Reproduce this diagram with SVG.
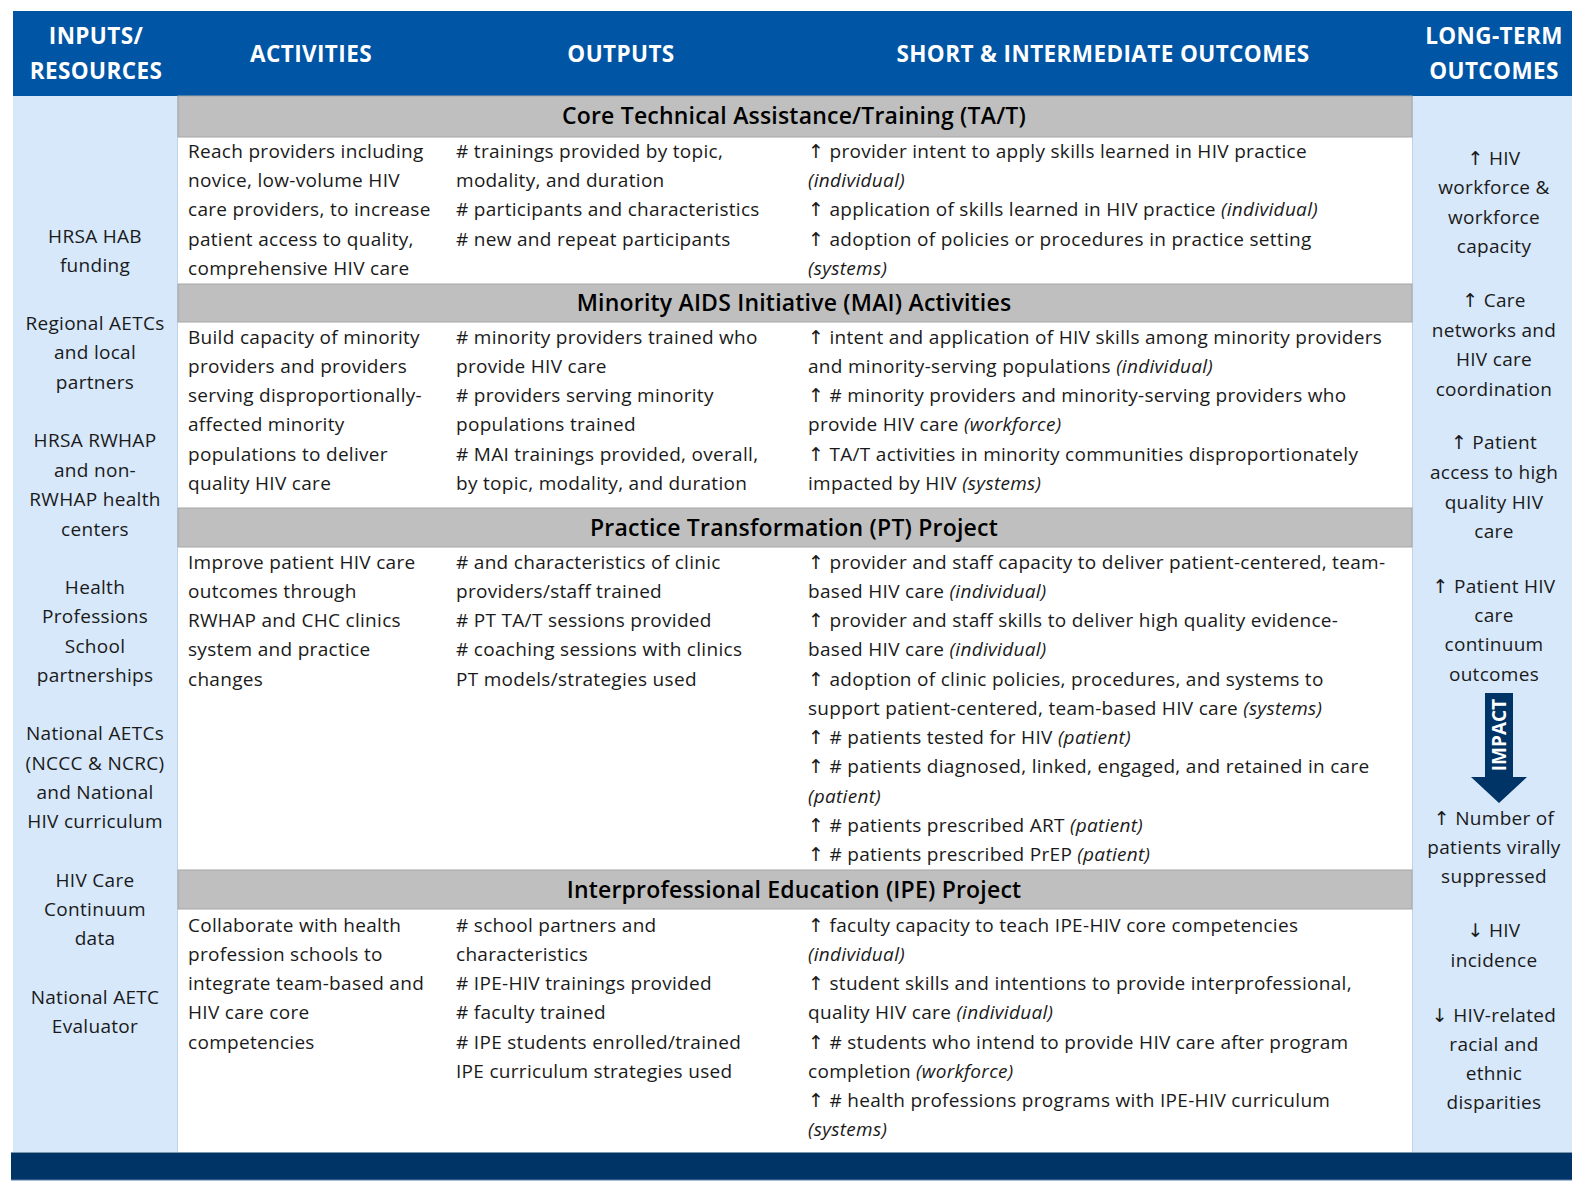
<svg xmlns="http://www.w3.org/2000/svg" width="1572" height="1188" viewBox="0 0 1572 1188">
<style>
.t{font-family:"Open Sans","DejaVu Sans",sans-serif;font-size:19px;letter-spacing:0.3px;fill:#1a1a1a}
.c{text-anchor:middle}
.i{font-style:italic}
.h{font-family:"Open Sans","Liberation Sans",sans-serif;font-size:22.5px;letter-spacing:0.4px;font-weight:bold;fill:#fff;text-anchor:middle}
.s{font-family:"Open Sans","Liberation Sans",sans-serif;font-size:23px;letter-spacing:0.2px;font-weight:600;fill:#000;text-anchor:middle}
.sec{fill:#BFBFBF;stroke:#A6A6A6;stroke-width:1}
.side{fill:#D6E8FA}
</style>
<rect width="1572" height="1188" fill="#fff"/>
<g id="header">
<rect x="13" y="11" width="1559" height="85" fill="#0055A5"/>
<text class="h" x="96" y="44">INPUTS/</text>
<text class="h" x="96" y="79">RESOURCES</text>
<text class="h" x="311" y="62">ACTIVITIES</text>
<text class="h" x="621" y="62">OUTPUTS</text>
<text class="h" x="1103" y="62">SHORT &amp; INTERMEDIATE OUTCOMES</text>
<text class="h" x="1494" y="44">LONG-TERM</text>
<text class="h" x="1494" y="79">OUTCOMES</text>
</g>
<g id="inputs">
<rect class="side" x="13" y="96" width="165" height="1056"/>
<line x1="178" y1="96" x2="178" y2="1152" stroke="#A9BDD2" stroke-width="1"/>
<g class="t c">
<text x="95" y="243">HRSA HAB</text><text x="95" y="272">funding</text>
<text x="95" y="330">Regional AETCs</text><text x="95" y="359">and local</text><text x="95" y="389">partners</text>
<text x="95" y="447">HRSA RWHAP</text><text x="95" y="477">and non-</text><text x="95" y="506">RWHAP health</text><text x="95" y="536">centers</text>
<text x="95" y="594">Health</text><text x="95" y="623">Professions</text><text x="95" y="653">School</text><text x="95" y="682">partnerships</text>
<text x="95" y="740">National AETCs</text><text x="95" y="770">(NCCC &amp; NCRC)</text><text x="95" y="799">and National</text><text x="95" y="828">HIV curriculum</text>
<text x="95" y="887">HIV Care</text><text x="95" y="916">Continuum</text><text x="95" y="945">data</text>
<text x="95" y="1004">National AETC</text><text x="95" y="1033">Evaluator</text>
</g>
</g>
<g id="longterm">
<rect class="side" x="1412" y="96" width="160" height="1056"/>
<line x1="1412" y1="96" x2="1412" y2="1152" stroke="#A9BDD2" stroke-width="1"/>
<g class="t c">
<text x="1494" y="165">↑ HIV</text><text x="1494" y="194">workforce &amp;</text><text x="1494" y="224">workforce</text><text x="1494" y="253">capacity</text>
<text x="1494" y="307">↑ Care</text><text x="1494" y="337">networks and</text><text x="1494" y="366">HIV care</text><text x="1494" y="396">coordination</text>
<text x="1494" y="449">↑ Patient</text><text x="1494" y="479">access to high</text><text x="1494" y="509">quality HIV</text><text x="1494" y="538">care</text>
<text x="1494" y="593">↑ Patient HIV</text><text x="1494" y="622">care</text><text x="1494" y="651">continuum</text><text x="1494" y="681">outcomes</text>
<text x="1494" y="825">↑ Number of</text><text x="1494" y="854">patients virally</text><text x="1494" y="883">suppressed</text>
<text x="1494" y="937">↓ HIV</text><text x="1494" y="967">incidence</text>
<text x="1494" y="1022">↓ HIV-related</text><text x="1494" y="1051">racial and</text><text x="1494" y="1080">ethnic</text><text x="1494" y="1109">disparities</text>
</g>
</g>
<g id="impact">
<path d="M1485,693 H1513 V777 H1527 L1499,803 L1471,777 H1485 Z" fill="#003366"/>
<text transform="translate(1506,735) rotate(-90)" font-family="Open Sans,Liberation Sans,sans-serif" font-size="19" font-weight="bold" fill="#fff" text-anchor="middle">IMPACT</text>
</g>
<g id="body">
<rect x="178" y="137" width="1234" height="1015" fill="#fff"/>
</g>
<g id="core">
<rect class="sec" x="178" y="96" width="1234" height="41"/>
<text class="s" x="794" y="124">Core Technical Assistance/Training (TA/T)</text>
<g class="t">
<text x="188" y="158">Reach  providers including</text>
<text x="188" y="187">novice, low-volume HIV</text>
<text x="188" y="216">care providers, to increase</text>
<text x="188" y="246">patient access to quality,</text>
<text x="188" y="275">comprehensive HIV care</text>
<text x="456" y="158"># trainings provided by topic,</text>
<text x="456" y="187">modality, and duration</text>
<text x="456" y="216"># participants and characteristics</text>
<text x="456" y="246"># new and repeat participants</text>
<text x="808" y="158">↑ provider intent to apply skills learned in HIV practice</text>
<text x="808" y="187" class="i">(individual)</text>
<text x="808" y="216">↑ application of skills learned  in HIV practice  <tspan class="i">(individual)</tspan></text>
<text x="808" y="246">↑ adoption of policies or procedures in practice setting</text>
<text x="808" y="275" class="i">(systems)</text>
</g>
</g>
<g id="mai">
<rect class="sec" x="178" y="284" width="1234" height="38"/>
<text class="s" x="794" y="311">Minority AIDS Initiative (MAI) Activities</text>
<g class="t">
<text x="188" y="344">Build capacity of minority</text>
<text x="188" y="373">providers and providers</text>
<text x="188" y="402">serving disproportionally-</text>
<text x="188" y="431">affected minority</text>
<text x="188" y="461">populations to deliver</text>
<text x="188" y="490">quality HIV care</text>
<text x="456" y="344"># minority providers trained who</text>
<text x="456" y="373">provide HIV care</text>
<text x="456" y="402"># providers serving minority</text>
<text x="456" y="431">populations trained</text>
<text x="456" y="461"># MAI trainings provided, overall,</text>
<text x="456" y="490">by topic, modality, and duration</text>
<text x="808" y="344">↑ intent and application of HIV skills among minority providers</text>
<text x="808" y="373">and minority-serving populations <tspan class="i">(individual)</tspan></text>
<text x="808" y="402">↑ # minority providers and minority-serving providers who</text>
<text x="808" y="431">provide HIV care <tspan class="i">(workforce)</tspan></text>
<text x="808" y="461">↑ TA/T activities in minority communities disproportionately</text>
<text x="808" y="490">impacted by HIV <tspan class="i">(systems)</tspan></text>
</g>
</g>
<g id="pt">
<rect class="sec" x="178" y="508" width="1234" height="39"/>
<text class="s" x="794" y="536">Practice Transformation (PT) Project</text>
<g class="t">
<text x="188" y="569">Improve patient HIV care</text>
<text x="188" y="598">outcomes through</text>
<text x="188" y="627">RWHAP and CHC clinics</text>
<text x="188" y="656">system and practice</text>
<text x="188" y="686">changes</text>
<text x="456" y="569"># and characteristics of clinic</text>
<text x="456" y="598">providers/staff trained</text>
<text x="456" y="627"># PT TA/T sessions provided</text>
<text x="456" y="656"># coaching sessions with clinics</text>
<text x="456" y="686">PT models/strategies used</text>
<text x="808" y="569">↑ provider and staff capacity to deliver patient-centered, team-</text>
<text x="808" y="598">based HIV care <tspan class="i">(individual)</tspan></text>
<text x="808" y="627">↑ provider and staff skills to deliver high quality evidence-</text>
<text x="808" y="656">based HIV care <tspan class="i">(individual)</tspan></text>
<text x="808" y="686">↑ adoption of clinic policies, procedures, and systems to</text>
<text x="808" y="715">support patient-centered, team-based HIV care <tspan class="i">(systems)</tspan></text>
<text x="808" y="744">↑ # patients tested for HIV <tspan class="i">(patient)</tspan></text>
<text x="808" y="773">↑ # patients diagnosed, linked, engaged, and retained in care</text>
<text x="808" y="803" class="i">(patient)</text>
<text x="808" y="832">↑ # patients prescribed ART <tspan class="i">(patient)</tspan></text>
<text x="808" y="861">↑ # patients prescribed PrEP <tspan class="i">(patient)</tspan></text>
</g>
</g>
<g id="ipe">
<rect class="sec" x="178" y="870" width="1234" height="39"/>
<text class="s" x="794" y="898">Interprofessional Education (IPE) Project</text>
<g class="t">
<text x="188" y="932">Collaborate with health</text>
<text x="188" y="961">profession schools to</text>
<text x="188" y="990">integrate team-based and</text>
<text x="188" y="1019">HIV care core</text>
<text x="188" y="1049">competencies</text>
<text x="456" y="932"># school partners and</text>
<text x="456" y="961">characteristics</text>
<text x="456" y="990"># IPE-HIV trainings provided</text>
<text x="456" y="1019"># faculty trained</text>
<text x="456" y="1049"># IPE students enrolled/trained</text>
<text x="456" y="1078">IPE curriculum strategies used</text>
<text x="808" y="932">↑ faculty capacity to teach IPE-HIV core competencies</text>
<text x="808" y="961" class="i">(individual)</text>
<text x="808" y="990">↑ student skills and intentions to provide interprofessional,</text>
<text x="808" y="1019">quality HIV care <tspan class="i">(individual)</tspan></text>
<text x="808" y="1049">↑ # students who intend to provide HIV care after program</text>
<text x="808" y="1078">completion <tspan class="i">(workforce)</tspan></text>
<text x="808" y="1107">↑ # health professions programs with IPE-HIV curriculum</text>
<text x="808" y="1136" class="i">(systems)</text>
</g>
</g>
<g id="footer">
<rect x="11" y="1152" width="1561" height="28" fill="#003366"/>
<line x1="11" y1="1152.5" x2="1572" y2="1152.5" stroke="#7F95AD" stroke-width="1"/>
<line x1="11" y1="1180" x2="1572" y2="1180" stroke="#5A7FA8" stroke-width="1"/>
</g>
</svg>
